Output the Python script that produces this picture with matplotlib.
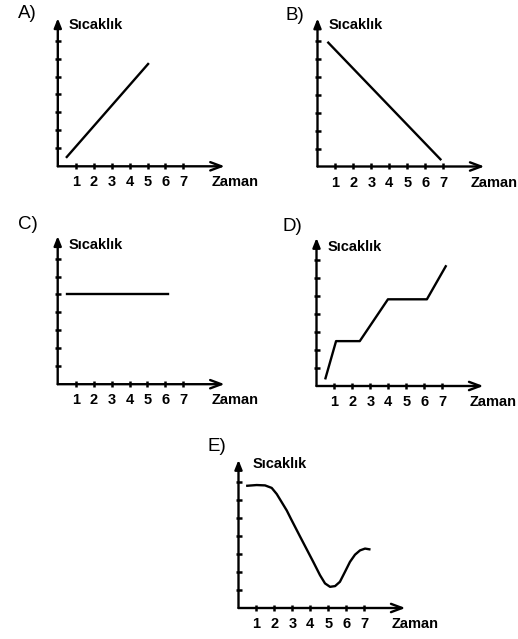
import matplotlib
matplotlib.use('Agg')
import matplotlib.pyplot as plt

plt.rcParams['font.family'] = ['Liberation Sans', 'DejaVu Sans']

# okunan degerler (zaman, sicaklik)
a_x = [0.5, 5.03]
a_y = [0.52, 5.7]
b_x = [0.6, 6.85]
b_y = [6.9, 0.4]
c_x = [0.52, 6.14]
c_y = [5.0, 5.0]
d_x = [0.5, 1.09, 2.41, 3.98, 6.15, 7.2]
d_y = [0.43, 2.5, 2.5, 4.83, 4.83, 6.67]
e_x = [0.49, 1.01, 1.48, 1.85, 2.13, 2.41, 2.69, 2.91, 3.43, 3.8, 4.17, 4.54,
       4.82, 5.1, 5.38, 5.65, 5.93, 6.21, 6.49, 6.77, 7.05, 7.29]
e_y = [6.81, 6.85, 6.83, 6.69, 6.35, 5.89, 5.43, 4.99, 3.98, 3.27, 2.56, 1.83,
       1.37, 1.18, 1.22, 1.46, 2.01, 2.57, 2.97, 3.21, 3.31, 3.27]

ticks = [1, 2, 3, 4, 5, 6, 7]
tick_labels = ['1', '2', '3', '4', '5', '6', '7']
x_label = 'Zaman'
y_label = 'Sıcaklık'
panel_names = ['A)', 'B)', 'C)', 'D)', 'E)']

W, H = 518, 639
UNIT = 17.95
fig = plt.figure(figsize=(W / 100, H / 100), dpi=100)


def make_axes(ox, oy):
    x0, x1, y0, y1 = -2.5, 11.5, -2.0, 9.5
    left = (ox + x0 * UNIT) / W
    bottom = (H - oy + y0 * UNIT) / H
    ax = fig.add_axes([left, bottom, (x1 - x0) * UNIT / W, (y1 - y0) * UNIT / H])
    ax.set_xlim(x0, x1)
    ax.set_ylim(y0, y1)
    ax.axis('off')
    return ax


def draw_panel(ox, oy, xs, ys, name, name_pos, ylab_pos):
    ax = make_axes(ox, oy)
    # eksenler
    ax.annotate('', xy=(9.3, 0), xytext=(0, 0),
                arrowprops=dict(arrowstyle='->,head_length=0.8,head_width=0.3',
                                lw=1.7, color='black', shrinkA=0, shrinkB=0))
    ax.annotate('', xy=(0, 8.25), xytext=(0, 0),
                arrowprops=dict(arrowstyle='-|>,head_length=0.55,head_width=0.22',
                                lw=1.7, color='black', shrinkA=0, shrinkB=0))
    ax.plot(ticks, [0] * len(ticks), ls='none', marker='|', ms=5, mew=1.8, color='black')
    ax.plot([0] * len(ticks), ticks, ls='none', marker='_', ms=5, mew=1.8, color='black')
    for t, lab in zip(ticks, tick_labels):
        ax.text(t, -0.9, lab, ha='center', va='center', fontsize=10.5,
                fontweight='bold', clip_on=False)
    ax.text(8.55, -0.9, x_label, ha='left', va='center', fontsize=10.5,
            fontweight='bold', clip_on=False)
    ax.text(ylab_pos[0], ylab_pos[1], y_label, ha='left', va='center', fontsize=10.5,
            fontweight='bold', clip_on=False)
    ax.text(name_pos[0], name_pos[1], name, ha='left', va='center', fontsize=13.5,
            clip_on=False)
    # grafik
    ax.plot(xs, ys, color='black', lw=1.7, solid_joinstyle='round', clip_on=False)
    return ax


draw_panel(57.8, 166.3, a_x, a_y, panel_names[0], (-2.22, 8.54), (0.6, 7.87))
draw_panel(317.5, 166.5, b_x, b_y, panel_names[1], (-1.81, 8.44), (0.6, 7.88))
draw_panel(57.7, 384.2, c_x, c_y, panel_names[2], (-2.2, 8.87), (0.6, 7.75))
draw_panel(316.5, 386.0, d_x, d_y, panel_names[3], (-1.87, 8.86), (0.64, 7.74))
draw_panel(238.5, 608.0, e_x, e_y, panel_names[4], (-1.7, 8.97), (0.8, 8.05))

fig.savefig('out.png', dpi=100, facecolor='white')
